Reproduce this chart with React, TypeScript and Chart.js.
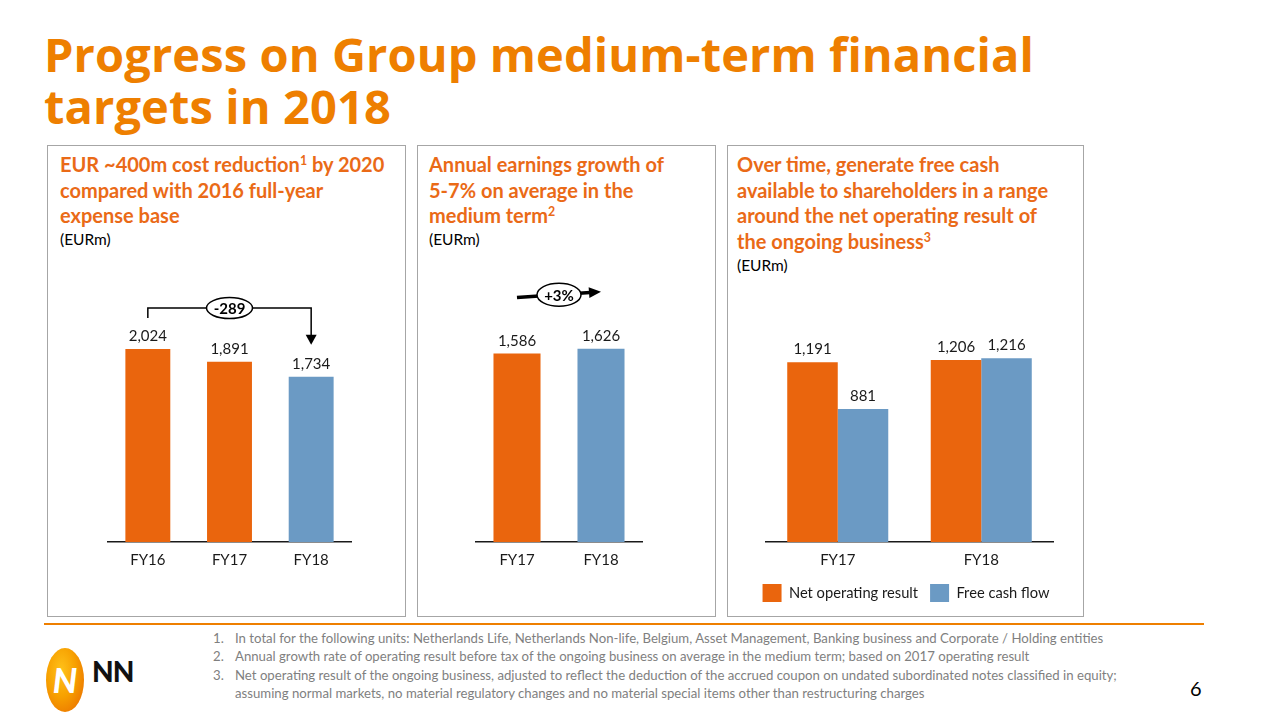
import React, { useEffect, useRef } from "react";
import { Chart, registerables } from "chart.js";

Chart.register(...registerables);

// ---------- data ----------
const costCategories = ["FY16", "FY17", "FY18"];
const costValues = [2024, 1891, 1734];
const costChangeLabel = "-289";

const earningsCategories = ["FY17", "FY18"];
const earningsValues = [1586, 1626];
const earningsChangeLabel = "+3%";

const cashCategories = ["FY17", "FY18"];
const netOperatingResult = [1191, 1206];
const freeCashFlow = [881, 1216];
const cashSeriesLabels = ["Net operating result", "Free cash flow"];

const footnoteLines = [
  ["1.", "In total for the following units: Netherlands Life, Netherlands Non-life, Belgium, Asset Management, Banking business and Corporate / Holding entities"],
  ["2.", "Annual growth rate of operating result before tax of the ongoing business on average in the medium term; based on 2017 operating result"],
  ["3.", "Net operating result of the ongoing business, adjusted to reflect the deduction of the accrued coupon on undated subordinated notes classified in equity;"],
  ["", "assuming normal markets, no material regulatory changes and no material special items other than restructuring charges"],
];

// ---------- styles ----------
const FONT = "Lato";
const ORANGE = "#EA650D";
const BLUE = "#6B9AC4";
const TITLE_ORANGE = "#EE7F00";
const HEAD_ORANGE = "#EA6A17";
const TEXT = "#1a1a1a";

const fmt = (v: number) => v.toLocaleString("en-US");

const valueLabelsPlugin = {
  id: "valueLabels",
  afterDatasetsDraw(chart: any) {
    const { ctx } = chart;
    ctx.save();
    ctx.font = `15px ${FONT}`;
    ctx.fillStyle = TEXT;
    ctx.textAlign = "center";
    ctx.textBaseline = "alphabetic";
    chart.data.datasets.forEach((ds: any, di: number) => {
      chart.getDatasetMeta(di).data.forEach((bar: any, i: number) => {
        ctx.fillText(fmt(ds.data[i]), bar.x, bar.y - 8);
      });
    });
    ctx.restore();
  },
};

const bracketPlugin = {
  id: "bracket",
  afterDatasetsDraw(chart: any) {
    const { ctx } = chart;
    const bars = chart.getDatasetMeta(0).data;
    const a = bars[0];
    const b = bars[bars.length - 1];
    const lineY = a.y - 41;
    const startY = a.y - 31;
    const tipY = b.y - 32;
    ctx.save();
    ctx.strokeStyle = "#000";
    ctx.fillStyle = "#000";
    ctx.lineWidth = 1.5;
    ctx.beginPath();
    ctx.moveTo(a.x, startY);
    ctx.lineTo(a.x, lineY);
    ctx.lineTo(b.x, lineY);
    ctx.lineTo(b.x, tipY - 9);
    ctx.stroke();
    ctx.beginPath();
    ctx.moveTo(b.x - 5.5, tipY - 10);
    ctx.lineTo(b.x + 5.5, tipY - 10);
    ctx.lineTo(b.x, tipY);
    ctx.closePath();
    ctx.fill();
    const mx = (a.x + b.x) / 2;
    ctx.beginPath();
    ctx.ellipse(mx, lineY, 23, 10.5, 0, 0, Math.PI * 2);
    ctx.fillStyle = "#fff";
    ctx.fill();
    ctx.stroke();
    ctx.fillStyle = "#000";
    ctx.font = `bold 15px ${FONT}`;
    ctx.textAlign = "center";
    ctx.textBaseline = "middle";
    ctx.fillText(costChangeLabel, mx, lineY + 1);
    ctx.restore();
  },
};

const growthArrowPlugin = {
  id: "growthArrow",
  afterDatasetsDraw(chart: any) {
    const { ctx } = chart;
    const bars = chart.getDatasetMeta(0).data;
    const a = bars[0];
    const b = bars[bars.length - 1];
    const y0 = a.y - 56;
    const y1 = b.y - 57;
    const ang = Math.atan2(y1 - y0, b.x - a.x);
    const headLen = 12;
    const hx = b.x - headLen * Math.cos(ang);
    const hy = y1 - headLen * Math.sin(ang);
    ctx.save();
    ctx.strokeStyle = "#000";
    ctx.fillStyle = "#000";
    ctx.lineWidth = 3.5;
    ctx.beginPath();
    ctx.moveTo(a.x, y0);
    ctx.lineTo(hx + 1, hy);
    ctx.stroke();
    ctx.beginPath();
    ctx.moveTo(b.x, y1);
    ctx.lineTo(hx - 5.5 * Math.sin(ang), hy + 5.5 * Math.cos(ang));
    ctx.lineTo(hx + 5.5 * Math.sin(ang), hy - 5.5 * Math.cos(ang));
    ctx.closePath();
    ctx.fill();
    const mx = (a.x + b.x) / 2;
    const my = (y0 + y1) / 2;
    ctx.lineWidth = 1.5;
    ctx.beginPath();
    ctx.ellipse(mx, my, 22, 11.5, 0, 0, Math.PI * 2);
    ctx.fillStyle = "#fff";
    ctx.fill();
    ctx.stroke();
    ctx.fillStyle = "#000";
    ctx.font = `bold 15px ${FONT}`;
    ctx.textAlign = "center";
    ctx.textBaseline = "middle";
    ctx.fillText(earningsChangeLabel, mx, my + 1);
    ctx.restore();
  },
};

const xAxis = () => ({
  grid: { display: false, drawTicks: false },
  border: { display: true, color: TEXT, width: 1.5 },
  ticks: { font: { family: FONT, size: 15 }, color: TEXT, padding: 9 },
  afterFit: (s: any) => {
    s.height = 30;
  },
});

const hiddenSide = (w: number, position: string) => ({
  type: "linear",
  position,
  display: true,
  ticks: { display: false },
  grid: { display: false },
  border: { display: false },
  afterFit: (s: any) => {
    s.width = w;
  },
});

function makeCostConfig(): any {
  return {
    type: "bar",
    data: {
      labels: costCategories,
      datasets: [
        {
          data: costValues,
          backgroundColor: costValues.map((_, i) => (i === costValues.length - 1 ? BLUE : ORANGE)),
          borderWidth: 0,
          categoryPercentage: 0.55,
          barPercentage: 1,
        },
      ],
    },
    options: {
      responsive: false,
      animation: false,
      layout: { padding: 0 },
      plugins: { legend: { display: false }, tooltip: { enabled: false } },
      scales: {
        x: xAxis(),
        y: { display: false, min: 0, max: 2749 },
      },
    },
    plugins: [valueLabelsPlugin, bracketPlugin],
  };
}

function makeEarningsConfig(): any {
  return {
    type: "bar",
    data: {
      labels: earningsCategories,
      datasets: [
        {
          data: earningsValues,
          backgroundColor: earningsValues.map((_, i) => (i === earningsValues.length - 1 ? BLUE : ORANGE)),
          borderWidth: 0,
          categoryPercentage: 0.56,
          barPercentage: 1,
        },
      ],
    },
    options: {
      responsive: false,
      animation: false,
      layout: { padding: 0 },
      plugins: { legend: { display: false }, tooltip: { enabled: false } },
      scales: {
        x: xAxis(),
        y: { display: false, min: 0, max: 2205 },
      },
    },
    plugins: [valueLabelsPlugin, growthArrowPlugin],
  };
}

function makeCashConfig(): any {
  return {
    type: "bar",
    data: {
      labels: cashCategories,
      datasets: [
        {
          label: cashSeriesLabels[0],
          data: netOperatingResult,
          backgroundColor: ORANGE,
          borderWidth: 0,
          categoryPercentage: 0.704,
          barPercentage: 1,
        },
        {
          label: cashSeriesLabels[1],
          data: freeCashFlow,
          backgroundColor: BLUE,
          borderWidth: 0,
          categoryPercentage: 0.704,
          barPercentage: 1,
        },
      ],
    },
    options: {
      responsive: false,
      animation: false,
      layout: { padding: 0 },
      plugins: {
        tooltip: { enabled: false },
        legend: {
          display: true,
          position: "bottom",
          labels: {
            boxWidth: 19,
            boxHeight: 18,
            padding: 12,
            color: TEXT,
            font: { family: FONT, size: 14.7 },
          },
        },
      },
      scales: {
        x: xAxis(),
        y: { ...hiddenSide(30, "left"), min: 0, max: 1735 },
        y2: { ...hiddenSide(23, "right"), min: 0, max: 1 },
      },
    },
    plugins: [valueLabelsPlugin],
  };
}

function ChartCanvas({ make, left, top, width, height }: any) {
  const ref = useRef<HTMLCanvasElement>(null);
  useEffect(() => {
    const chart = new Chart(ref.current as HTMLCanvasElement, make());
    return () => chart.destroy();
  }, []);
  return (
    <canvas
      ref={ref}
      width={width}
      height={height}
      style={{ position: "absolute", left, top, width, height, display: "block" }}
    />
  );
}

const sup = { fontSize: "0.62em", verticalAlign: "0.55em", lineHeight: 0 } as React.CSSProperties;

function Heading({ left, top, lines, unitTop }: any) {
  return (
    <>
      <div
        style={{
          position: "absolute",
          left,
          top,
          fontSize: 20,
          fontWeight: 700,
          lineHeight: "25.5px",
          color: HEAD_ORANGE,
          whiteSpace: "nowrap",
        }}
      >
        {lines}
      </div>
      <div style={{ position: "absolute", left, top: unitTop, fontSize: 15.5, lineHeight: "20px", color: "#000" }}>(EURm)</div>
    </>
  );
}

export default function App() {
  const panel = (left: number, width: number) => (
    <div
      style={{
        position: "absolute",
        left,
        top: 145,
        width,
        height: 472,
        border: "1px solid #A6A6A6",
        boxSizing: "border-box",
      }}
    />
  );
  return (
    <div
      style={{
        position: "fixed",
        left: 0,
        top: 0,
        width: 1280,
        height: 720,
        background: "#fff",
        overflow: "hidden",
        fontFamily: FONT,
      }}
    >
      <div
        style={{
          position: "absolute",
          left: 44,
          top: 28,
          fontFamily: "'Open Sans', Lato, sans-serif",
          fontSize: 47,
          fontWeight: 700,
          lineHeight: "52px",
          color: TITLE_ORANGE,
          whiteSpace: "nowrap",
          letterSpacing: 0.1,
        }}
      >
        Progress on Group medium-term financial
        <br />
        targets in 2018
      </div>

      {panel(47, 359)}
      {panel(417, 299)}
      {panel(727, 357)}

      <Heading
        left={60}
        top={152}
        unitTop={229}
        lines={
          <>
            EUR ~400m cost reduction<sup style={sup}>1</sup> by 2020
            <br />
            compared with 2016 full-year
            <br />
            expense base
          </>
        }
      />
      <Heading
        left={429}
        top={152}
        unitTop={229}
        lines={
          <>
            Annual earnings growth of
            <br />
            5-7% on average in the
            <br />
            medium term<sup style={sup}>2</sup>
          </>
        }
      />
      <Heading
        left={737}
        top={152}
        unitTop={255}
        lines={
          <>
            Over time, generate free cash
            <br />
            available to shareholders in a range
            <br />
            around the net operating result of
            <br />
            the ongoing business<sup style={sup}>3</sup>
          </>
        }
      />

      <ChartCanvas make={makeCostConfig} left={107} top={280} width={245} height={292} />
      <ChartCanvas make={makeEarningsConfig} left={475} top={280} width={168} height={292} />
      <ChartCanvas make={makeCashConfig} left={736} top={280} width={340} height={332} />

      <div style={{ position: "absolute", left: 44, top: 623, width: 1160, height: 2, background: TITLE_ORANGE }} />

      <div style={{ position: "absolute", left: 0, top: 629, fontSize: 13.2, lineHeight: "18.3px", color: "#7F7F7F" }}>
        {footnoteLines.map(([n, t], i) => (
          <div key={i} style={{ position: "relative", height: 18.3, whiteSpace: "nowrap" }}>
            <span style={{ position: "absolute", left: 213 }}>{n}</span>
            <span style={{ position: "absolute", left: 235 }}>{t}</span>
          </div>
        ))}
      </div>

      <div
        style={{
          position: "absolute",
          left: 46,
          top: 648,
          width: 38,
          height: 64,
          borderRadius: "50%",
          background: "radial-gradient(ellipse at 40% 35%, #FFC21A 0%, #F7A000 45%, #EE7F00 75%, #E65C0E 100%)",
          color: "#fff",
          fontWeight: 900,
          fontStyle: "italic",
          fontSize: 34,
          lineHeight: "64px",
          textAlign: "center",
        }}
      >
        N
      </div>
      <div
        style={{
          position: "absolute",
          left: 92,
          top: 655,
          fontSize: 28,
          fontWeight: 900,
          lineHeight: "32px",
          color: "#111",
          letterSpacing: -1,
        }}
      >
        NN
      </div>

      <div style={{ position: "absolute", left: 1190, top: 676, fontSize: 20, lineHeight: "24px", color: "#000" }}>6</div>
    </div>
  );
}
